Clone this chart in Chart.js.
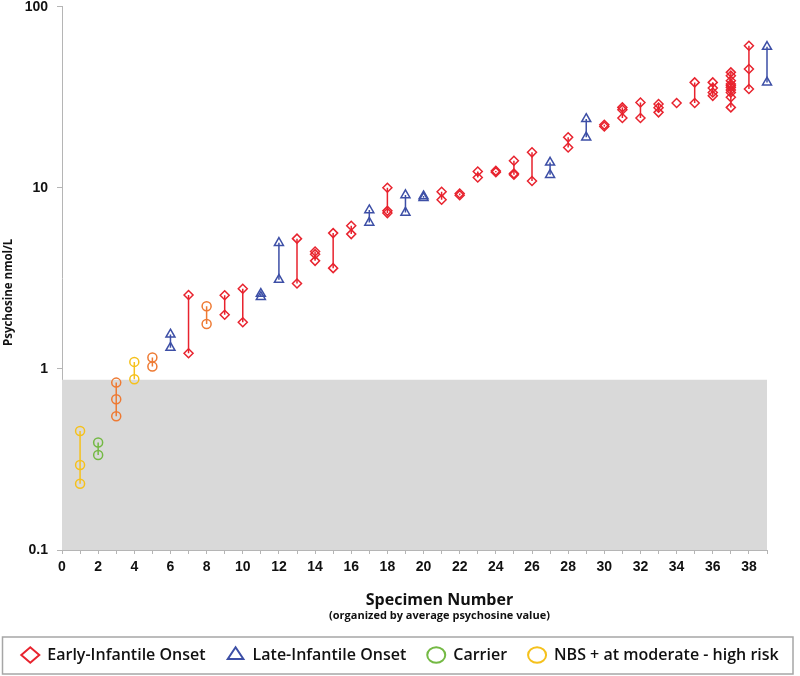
<!DOCTYPE html>
<html>
<head>
<meta charset="utf-8">
<script src="https://cdn.jsdelivr.net/npm/chart.js@4.4.1/dist/chart.umd.min.js"></script>
<style>
html,body{margin:0;padding:0;background:#ffffff;}
#wrap{width:800px;height:676px;position:relative;}
canvas{display:block;}
</style>
</head>
<body>
<div id="wrap"><canvas id="c" width="800" height="676"></canvas></div>
<script>
// ---------- data ----------
const xTickLabels = ['0','2','4','6','8','10','12','14','16','18','20','22','24','26','28','30','32','34','36','38'];
const yTickValues = [0.1, 1, 10, 100];
const yTickLabels = ['0.1', '1', '10', '100'];

const earlySpecimens = [7, 9, 10, 13, 14, 15, 16, 18, 21, 22, 23, 24, 25, 26, 28, 30, 31, 32, 33, 34, 35, 36, 37, 38];
const earlyValues = [
  [2.56, 1.22], [2.55, 1.99], [2.77, 1.81], [5.24, 2.96], [4.45, 4.3, 3.95],
  [5.62, 3.6], [6.17, 5.55], [10.0, 7.46, 7.25], [9.5, 8.6], [9.3, 9.1],
  [12.3, 11.4], [12.4, 12.2], [14.1, 12.0, 11.8], [15.7, 10.9], [19.0, 16.7],
  [22.3, 21.8], [27.8, 27.0, 24.3], [29.6, 24.3], [29.0, 27.7, 26.1], [29.4],
  [38.2, 29.4], [38.2, 35.6, 33.6, 32.2],
  [43.4, 41.6, 39.0, 37.4, 36.6, 35.8, 34.7, 33.6, 31.6, 27.8],
  [60.9, 45.3, 35.1]
];

const lateSpecimens = [6, 11, 12, 17, 19, 20, 27, 29, 39];
const lateValues = [
  [1.55, 1.31], [2.6, 2.5], [4.97, 3.11], [7.53, 6.43], [9.12, 7.3],
  [9.0, 8.8], [13.8, 11.8], [24.0, 19.0], [60.1, 38.2]
];

const carrierSpecimens = [2];
const carrierValues = [[0.392, 0.335]];

const nbsSpecimens = [1, 4];
const nbsValues = [[0.454, 0.295, 0.232], [1.093, 0.877]];

const nbsModerateSpecimens = [3, 5, 8];
const nbsModerateValues = [[0.84, 0.68, 0.548], [1.155, 1.03], [2.22, 1.77]];

const normalRangeX = [0, 39];
const normalRangeTop = [0.87, 0.87];

const seriesNames = ['Early-Infantile Onset', 'Late-Infantile Onset', 'Carrier', 'NBS + at moderate - high risk'];
const xTitle = 'Specimen Number';
const xSubtitle = '(organized by average psychosine value)';
const yTitle = 'Psychosine nmol/L';

// ---------- build ----------
function buildPoints(specs, vals) {
  const pts = [];
  specs.forEach((s, i) => {
    vals[i].forEach(v => pts.push({x: s, y: v}));
    pts.push({x: s, y: null});
  });
  return pts;
}

const RED = '#e8232e', BLUE = '#3d4fa6', GREEN = '#74b944', YELLOW = '#f5c11c', ORANGE = '#ee7a33';

function series(label, specs, vals, color, style, radius) {
  return {
    label: label,
    data: buildPoints(specs, vals),
    showLine: true,
    spanGaps: false,
    borderColor: color,
    borderWidth: 1.5,
    backgroundColor: 'rgba(255,255,255,0)',
    pointStyle: style,
    pointRadius: radius,
    pointHoverRadius: radius,
    pointBorderWidth: 1.5,
    pointBorderColor: color,
    pointBackgroundColor: 'rgba(255,255,255,0)',
    fill: false,
    clip: false,
    order: 0
  };
}

const datasets = [
  series(seriesNames[0], earlySpecimens, earlyValues, RED, 'rectRot', 4.5),
  series(seriesNames[1], lateSpecimens, lateValues, BLUE, 'triangle', 5.2),
  series(seriesNames[2], carrierSpecimens, carrierValues, GREEN, 'circle', 4.5),
  series(seriesNames[3], nbsSpecimens, nbsValues, YELLOW, 'circle', 4.5),
  series('NBS + (orange)', nbsModerateSpecimens, nbsModerateValues, ORANGE, 'circle', 4.5),
  {
    label: 'normal range',
    data: normalRangeX.map((x, i) => ({x: x, y: normalRangeTop[i]})),
    showLine: true,
    borderWidth: 0,
    borderColor: 'rgba(0,0,0,0)',
    backgroundColor: '#d9d9d9',
    pointRadius: 0,
    fill: 'start',
    order: 10
  }
];

const axisTitles = {
  id: 'axisTitles',
  afterDraw(chart) {
    const ctx = chart.ctx;
    const ca = chart.chartArea;
    ctx.save();
    ctx.fillStyle = '#111111';
    ctx.textAlign = 'center';
    ctx.textBaseline = 'middle';
    const cx = (ca.left + ca.right) / 2 + 25;
    ctx.font = 'bold 16px "Open Sans"';
    ctx.fillText(xTitle, cx, ca.bottom + 50);
    ctx.font = 'bold 11px "Open Sans"';
    ctx.fillText(xSubtitle, cx, ca.bottom + 66);
    ctx.translate(9, (ca.top + ca.bottom) / 2 + 14);
    ctx.rotate(-Math.PI / 2);
    ctx.font = 'bold 11.5px "Open Sans"';
    ctx.fillText(yTitle, 0, 0);
    ctx.restore();
  }
};

const legendFrame = {
  id: 'legendFrame',
  afterDraw(chart) {
    const lg = chart.legend;
    if (!lg) return;
    const ctx = chart.ctx;
    ctx.save();
    ctx.strokeStyle = '#a6a6a6';
    ctx.lineWidth = 1.5;
    ctx.strokeRect(2.5, lg.top + 11, 790.5, 37);
    ctx.restore();
  }
};

const tickFont = {family: '"Liberation Sans", Arial, sans-serif', size: 14, weight: 'bold'};

new Chart(document.getElementById('c'), {
  type: 'scatter',
  data: {datasets: datasets},
  options: {
    responsive: false,
    animation: false,
    devicePixelRatio: 1,
    layout: {padding: {top: 4, bottom: 3, left: 0, right: 0}},
    plugins: {
      tooltip: {enabled: false},
      legend: {
        position: 'bottom',
        labels: {
          usePointStyle: true,
          pointStyleWidth: 18,
          boxHeight: 11,
          padding: 21,
          color: '#111111',
          font: {family: '"Open Sans"', size: 16, weight: '600'},
          filter: (item) => item.datasetIndex < 4,
          generateLabels: (chart) => Chart.defaults.plugins.legend.labels.generateLabels(chart).map(it => { it.lineWidth = 2; return it; })
        }
      }
    },
    scales: {
      x: {
        type: 'linear',
        min: 0,
        max: 39,
        afterFit: (s) => { s.height = 76; s.paddingLeft = 0; s.paddingRight = 33; },
        ticks: {
          stepSize: 1,
          autoSkip: false,
          maxRotation: 0,
          padding: 5,
          color: '#111111',
          font: tickFont,
          callback: (v) => xTickLabels.includes(String(v)) ? String(v) : ''
        },
        grid: {display: true, drawOnChartArea: false, drawTicks: true, tickLength: 4, color: '#b5b5b5', lineWidth: 1},
        border: {display: true, color: '#b5b5b5', width: 1}
      },
      y: {
        type: 'logarithmic',
        min: 0.1,
        max: 100,
        afterBuildTicks: (s) => { s.ticks = yTickValues.map(v => ({value: v})); },
        afterFit: (s) => { s.width = 62; s.paddingTop = 0; s.paddingBottom = 0; },
        ticks: {
          padding: 9,
          color: '#111111',
          font: tickFont,
          callback: (v) => { const i = yTickValues.indexOf(v); return i >= 0 ? yTickLabels[i] : ''; }
        },
        grid: {display: true, drawOnChartArea: false, drawTicks: true, tickLength: 5, color: '#b5b5b5', lineWidth: 1},
        border: {display: true, color: '#b5b5b5', width: 1}
      }
    }
  },
  plugins: [axisTitles, legendFrame]
});
</script>
</body>
</html>
